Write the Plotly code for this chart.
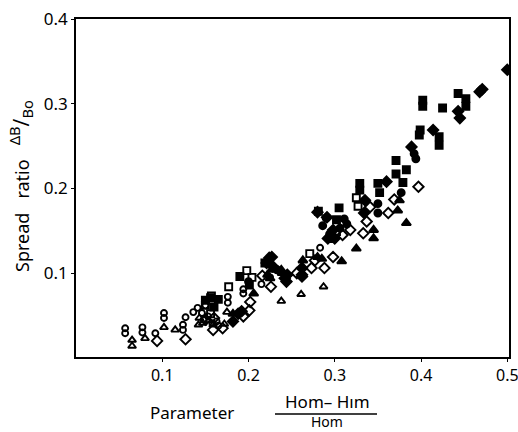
import plotly.graph_objects as go

# ---- data ----
oc_x = [0.057,0.057,0.077,0.077,0.092,0.102,0.102,0.124,0.124,0.127,0.136,0.141,0.146,0.148,0.153,0.158,0.163,0.176,0.176,0.194,0.194,0.215,0.225,0.283,0.165,0.150]
oc_y = [0.035,0.029,0.036,0.030,0.029,0.053,0.047,0.039,0.033,0.048,0.054,0.059,0.053,0.045,0.049,0.041,0.043,0.072,0.065,0.081,0.076,0.087,0.095,0.130,0.038,0.062]

ot_x = [0.065,0.065,0.080,0.102,0.115,0.142,0.143,0.154,0.159,0.147,0.175,0.172,0.238,0.261,0.287]
ot_y = [0.021,0.014,0.023,0.036,0.033,0.039,0.047,0.044,0.039,0.041,0.054,0.040,0.067,0.075,0.084]

os_x = [0.157,0.177,0.198,0.204,0.271,0.325,0.327,0.302,0.150,0.156]
os_y = [0.073,0.084,0.103,0.095,0.123,0.189,0.179,0.149,0.062,0.052]

od_x = [0.094,0.127,0.159,0.170,0.194,0.201,0.202,0.226,0.216,0.256,0.262,0.273,0.288,0.298,0.277,0.309,0.318,0.333,0.337,0.341,0.362,0.369,0.397,0.150,0.160]
od_y = [0.020,0.022,0.033,0.035,0.049,0.056,0.066,0.084,0.097,0.100,0.106,0.106,0.106,0.119,0.115,0.145,0.151,0.147,0.161,0.178,0.171,0.187,0.202,0.045,0.047]

fs_x = [0.150,0.156,0.165,0.190,0.201,0.219,0.281,0.305,0.302,0.329,0.329,0.350,0.352,0.371,0.371,0.379,0.383,0.398,0.399,0.402,0.402,0.425,0.443,0.452,0.452,0.421,0.421,0.297,0.160]
fs_y = [0.068,0.071,0.069,0.096,0.086,0.112,0.173,0.177,0.163,0.206,0.198,0.206,0.195,0.233,0.217,0.207,0.222,0.263,0.269,0.304,0.297,0.295,0.312,0.306,0.297,0.261,0.251,0.141,0.060]

fc_x = [0.286,0.311,0.306,0.294,0.314,0.350,0.350,0.377,0.394,0.392,0.233,0.200,0.290]
fc_y = [0.156,0.164,0.153,0.146,0.158,0.182,0.171,0.195,0.235,0.241,0.104,0.090,0.165]

ft_x = [0.206,0.225,0.227,0.238,0.239,0.222,0.263,0.262,0.280,0.285,0.308,0.325,0.345,0.345,0.373,0.375,0.383,0.182,0.296]
ft_y = [0.076,0.094,0.104,0.104,0.100,0.098,0.115,0.107,0.119,0.117,0.114,0.129,0.151,0.141,0.174,0.186,0.159,0.052,0.139]

fd_x = [0.182,0.188,0.192,0.221,0.227,0.224,0.228,0.244,0.242,0.262,0.262,0.280,0.291,0.298,0.292,0.300,0.335,0.334,0.360,0.389,0.414,0.443,0.445,0.468,0.471,0.500,0.245]
fd_y = [0.043,0.052,0.055,0.112,0.119,0.118,0.108,0.090,0.094,0.096,0.098,0.172,0.166,0.151,0.141,0.141,0.186,0.171,0.208,0.249,0.269,0.291,0.283,0.314,0.317,0.340,0.098]

x_ticks = [0.1, 0.2, 0.3, 0.4, 0.5]
y_ticks = [0.1, 0.2, 0.3, 0.4]
x_tick_text = ["0.1", "0.2", "0.3", "0.4", "0.5"]
y_tick_text = ["0.1", "0.2", "0.3", "0.4"]

FONT = "Noto Sans"
series = [
    (oc_x, oc_y, "circle-open", 6),
    (ot_x, ot_y, "triangle-up-open", 7),
    (os_x, os_y, "square-open", 7),
    (od_x, od_y, "diamond-open", 8),
    (fs_x, fs_y, "square", 7),
    (fc_x, fc_y, "circle", 7),
    (ft_x, ft_y, "triangle-up", 8),
    (fd_x, fd_y, "diamond", 8),
]

fig = go.Figure()
for xs, ys, sym, sz in series:
    fig.add_trace(go.Scatter(
        x=xs, y=ys, mode="markers",
        marker=dict(symbol=sym, size=sz, color="black",
                    line=dict(color="black", width=1.9)),
        showlegend=False,
    ))

W, H = 518, 432
ML, MR, MT, MB = 76, 9, 19, 75
PW, PH = W - ML - MR, H - MT - MB

def px(xp):
    return (xp - ML) / PW

def py(yp):
    return (H - MB - yp) / PH

fig.update_layout(
    width=W, height=H,
    margin=dict(l=ML, r=MR, t=MT, b=MB),
    paper_bgcolor="white", plot_bgcolor="white",
    font=dict(family=FONT, color="black", size=16),
    xaxis=dict(range=[0, 0.502], tickvals=x_ticks, ticktext=x_tick_text,
               showgrid=False, zeroline=False, showline=True, mirror=True,
               linecolor="black", linewidth=1.6, ticks="outside", ticklen=3,
               tickcolor="black", tickfont=dict(size=16, family=FONT),
               ticklabeloverflow="allow", automargin=False),
    yaxis=dict(range=[0.001, 0.4], tickvals=y_ticks, ticktext=y_tick_text,
               showgrid=False, zeroline=False, showline=True, mirror=True,
               linecolor="black", linewidth=1.6, ticks="outside", ticklen=3,
               tickcolor="black", tickfont=dict(size=17, family=FONT),
               ticklabeloverflow="allow", automargin=False),
)

NB = "\u00a0"
fig.add_annotation(
    x=px(20), y=py(186), xref="paper", yref="paper",
    text="Spread" + NB*3 + "ratio" + NB*3
         + "<span style='font-size:21px'><sup>\u0394B</sup>/<sub>Bo</sub></span>",
    textangle=-90, showarrow=False, font=dict(size=18, family=FONT),
    xanchor="center", yanchor="middle",
)
fig.add_annotation(x=px(192), y=py(412), xref="paper", yref="paper",
                   text="Parameter", showarrow=False,
                   font=dict(size=17, family=FONT), xanchor="center", yanchor="middle")
fig.add_annotation(x=px(327), y=py(401), xref="paper", yref="paper",
                   text="Hom\u2013 H\u0131m", showarrow=False, borderpad=0,
                   font=dict(size=17, family=FONT), xanchor="center", yanchor="middle")
fig.add_annotation(x=px(327), y=py(432), xref="paper", yref="paper",
                   text="Hom", showarrow=False, borderpad=0,
                   font=dict(size=14, family=FONT), xanchor="center", yanchor="bottom")
fig.add_shape(type="line", xref="paper", yref="paper",
              x0=px(275), x1=px(377), y0=py(414), y1=py(414),
              line=dict(color="black", width=1.5))

fig.write_html("out.html")
